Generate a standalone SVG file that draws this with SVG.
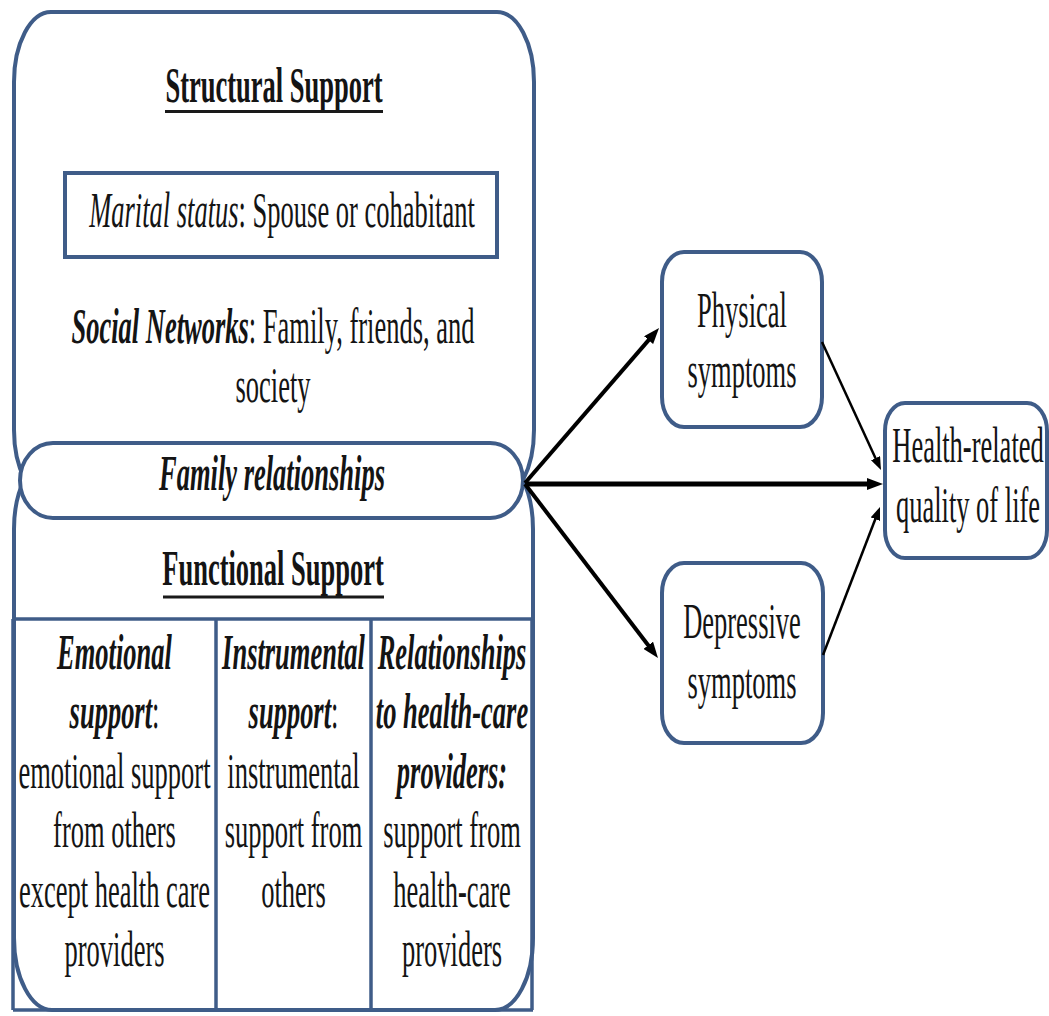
<svg xmlns="http://www.w3.org/2000/svg" width="1049" height="1016" viewBox="0 0 1049 1016">
<style>
text{font-family:"Liberation Serif","Times New Roman",serif;font-size:26.5px;fill:#141414;text-anchor:middle}
.b{font-weight:bold}
.i{font-style:italic}
.bi{font-weight:bold;font-style:italic}
.box{fill:none;stroke:#3f5c88;stroke-width:4}
.wbox{fill:#ffffff;stroke:#3f5c88;stroke-width:4}
.ul{stroke:#1a1a1a;stroke-width:3}
.tl{stroke:#3f5c88;stroke-width:3.5}
.arr{stroke:#000;fill:none}
</style>
<defs>
<marker id="ah" viewBox="0 0 16 12" markerWidth="16" markerHeight="12" markerUnits="userSpaceOnUse" refX="4" refY="6" orient="auto"><path d="M0,0 L16,6 L0,12 z" fill="#000"/></marker>
<marker id="ahs" viewBox="0 0 13 10" markerWidth="13" markerHeight="10" markerUnits="userSpaceOnUse" refX="3" refY="5" orient="auto"><path d="M0,0 L13,5 L0,10 z" fill="#000"/></marker>
</defs>
<rect x="0" y="0" width="1049" height="1016" fill="#ffffff"/>

<g id="functional-support">
<rect class="box" x="14" y="457" width="519" height="553" rx="38" ry="72"/>
<text class="b" transform="translate(273,585) scale(1,1.95)">Functional Support</text>
<line class="ul" x1="163" y1="597" x2="384" y2="597"/>
<g id="table">
<line class="tl" x1="13" y1="619" x2="533" y2="619" stroke-width="5"/>
<line class="tl" x1="13" y1="619" x2="13" y2="1010"/>
<line class="tl" x1="532" y1="619" x2="532" y2="1010"/>
<line class="tl" x1="13" y1="1010" x2="533" y2="1010"/>
<line class="tl" x1="216" y1="619" x2="216" y2="1010"/>
<line class="tl" x1="371" y1="619" x2="371" y2="1010"/>
</g>
<g id="emotional-support">
<text transform="translate(114.5,669) scale(1,1.95)"><tspan class="bi" x="0">Emotional</tspan><tspan x="0" dy="30.5"><tspan class="bi">support</tspan>:</tspan><tspan x="0" dy="30.5">emotional support</tspan><tspan x="0" dy="30.5">from others</tspan><tspan x="0" dy="30.5">except health care</tspan><tspan x="0" dy="30.5">providers</tspan></text>
</g>
<g id="instrumental-support">
<text transform="translate(293.5,669) scale(1,1.95)"><tspan class="bi" x="0">Instrumental</tspan><tspan x="0" dy="30.5"><tspan class="bi">support</tspan>:</tspan><tspan x="0" dy="30.5">instrumental</tspan><tspan x="0" dy="30.5">support from</tspan><tspan x="0" dy="30.5">others</tspan></text>
</g>
<g id="health-care-relationships">
<text transform="translate(452,669) scale(1,1.95)"><tspan class="bi" x="0">Relationships</tspan><tspan class="bi" x="0" dy="30.5">to health-care</tspan><tspan class="bi" x="0" dy="30.5">providers:</tspan><tspan x="0" dy="30.5">support from</tspan><tspan x="0" dy="30.5">health-care</tspan><tspan x="0" dy="30.5">providers</tspan></text>
</g>
</g>

<g id="structural-support">
<rect class="box" x="14" y="12" width="520" height="488" rx="37" ry="70"/>
<text class="b" transform="translate(274,102) scale(1,1.95)">Structural Support</text>
<line class="ul" x1="165" y1="111.5" x2="383" y2="111.5"/>
<g id="marital-status">
<rect class="wbox" x="65" y="173" width="432" height="84" stroke-width="5"/>
<text transform="translate(282,227) scale(1,1.95)"><tspan class="i">Marital status</tspan>: Spouse or cohabitant</text>
</g>
<g id="social-networks">
<text transform="translate(273,343) scale(1,1.95)"><tspan x="0"><tspan class="bi">Social Networks</tspan>: Family, friends, and</tspan><tspan x="0" dy="30.5">society</tspan></text>
</g>
</g>

<g id="family-relationships">
<rect class="wbox" x="20" y="443" width="503" height="75" rx="33" ry="37.5"/>
<text class="bi" transform="translate(272,490) scale(1,1.95)">Family relationships</text>
</g>

<g id="physical-symptoms">
<rect class="wbox" x="662" y="252" width="160" height="175" rx="22" ry="30"/>
<text transform="translate(742,327) scale(1,1.95)"><tspan x="0">Physical</tspan><tspan x="0" dy="30.8">symptoms</tspan></text>
</g>

<g id="depressive-symptoms">
<rect class="wbox" x="662" y="563" width="161" height="180" rx="22" ry="30"/>
<text transform="translate(742,638) scale(1,1.95)"><tspan x="0">Depressive</tspan><tspan x="0" dy="31">symptoms</tspan></text>
</g>

<g id="hrqol">
<rect class="wbox" x="885" y="403" width="162" height="155" rx="20" ry="28"/>
<text transform="translate(968,462) scale(1,1.95)"><tspan x="0">Health-related</tspan><tspan x="0" dy="30.8">quality of life</tspan></text>
</g>

<g id="connectors">
<line class="arr" x1="525" y1="483" x2="651.2" y2="337.1" stroke-width="4" marker-end="url(#ah)"/>
<line class="arr" x1="525" y1="484" x2="871" y2="484" stroke-width="5" marker-end="url(#ah)"/>
<line class="arr" x1="525" y1="484" x2="650.7" y2="648.5" stroke-width="4" marker-end="url(#ah)"/>
<line class="arr" x1="822" y1="342" x2="876.8" y2="460.9" stroke-width="2.5" marker-end="url(#ahs)"/>
<line class="arr" x1="823" y1="655" x2="876.4" y2="516.3" stroke-width="2.5" marker-end="url(#ahs)"/>
</g>
</svg>
